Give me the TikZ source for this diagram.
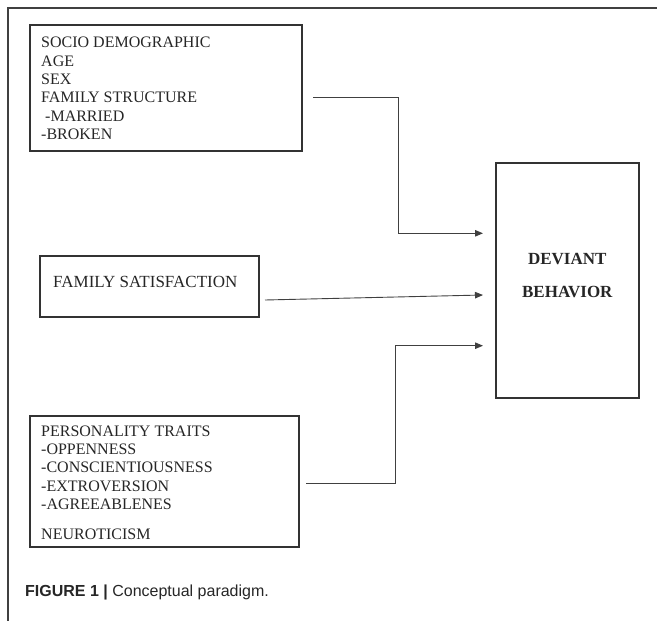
\documentclass[tikz,border=0pt]{standalone}
\usepackage{fontspec}
\setmainfont{Liberation Serif}
\newfontfamily\capfont{Liberation Sans}
\usetikzlibrary{arrows.meta}
\begin{document}
\begin{tikzpicture}[x=1pt,y=-1pt,
  box/.style={draw=black!80, line width=1.2pt, inner sep=0pt},
  txt/.style={inner sep=0pt, align=left, anchor=base west, text=black!85, font=\fontsize{16}{18.3}\selectfont},
  arr/.style={draw=black!75, line width=0.9pt, -{Triangle[length=8pt,width=6.5pt]}}]
\useasboundingbox (0,0) rectangle (657,621);
% outer frame
\draw[line width=1.2pt, black!75] (8,621) -- (8,8) -- (657,8);
% boxes
\node[box, minimum width=272pt, minimum height=126pt] (b1) at (166,88) {};
\node[box, minimum width=219pt, minimum height=61pt] (b2) at (149.5,286.5) {};
\node[box, minimum width=269pt, minimum height=131pt] (b3) at (164.5,481.5) {};
\node[box, minimum width=143pt, minimum height=235pt] (b4) at (567.5,280.5) {};
% texts (base anchor = baseline of the last line)
\node[txt] (t1) at (41,139.3) {SOCIO DEMOGRAPHIC\\AGE\\SEX\\FAMILY STRUCTURE\\\hspace{4pt}-MARRIED\\-BROKEN};
\node[txt, font=\fontsize{17}{20}\selectfont] (t2) at (53,287.7) {FAMILY SATISFACTION};
\node[txt] (t3) at (41,539.3) {PERSONALITY TRAITS\\-OPPENNESS\\-CONSCIENTIOUSNESS\\-EXTROVERSION\\-AGREEABLENES\\[11.7pt]NEUROTICISM};
\node[inner sep=0pt, align=center, anchor=base, text=black!85, font=\fontsize{17}{33}\selectfont\bfseries] (t4) at (567.3,297.3) {DEVIANT\\BEHAVIOR};
\node[inner sep=0pt, anchor=base west, text=black!85, font=\capfont\fontsize{16}{18}\selectfont] (cap) at (25,596.7) {\textbf{FIGURE 1 |} Conceptual paradigm.};
% connectors
\coordinate (s1) at (313,97.3);
\coordinate (e1) at (483,233.3);
\coordinate (s2) at (265,300);
\coordinate (e2) at (483,295);
\coordinate (s3) at (306,483.3);
\coordinate (e3) at (483,345.7);
\draw[arr] (s1) -- (398.3,97.3) |- (e1);
\draw[arr] (s2) -- (e2);
\draw[arr] (s3) -- (395,483.3) |- (e3);
\end{tikzpicture}
\end{document}
